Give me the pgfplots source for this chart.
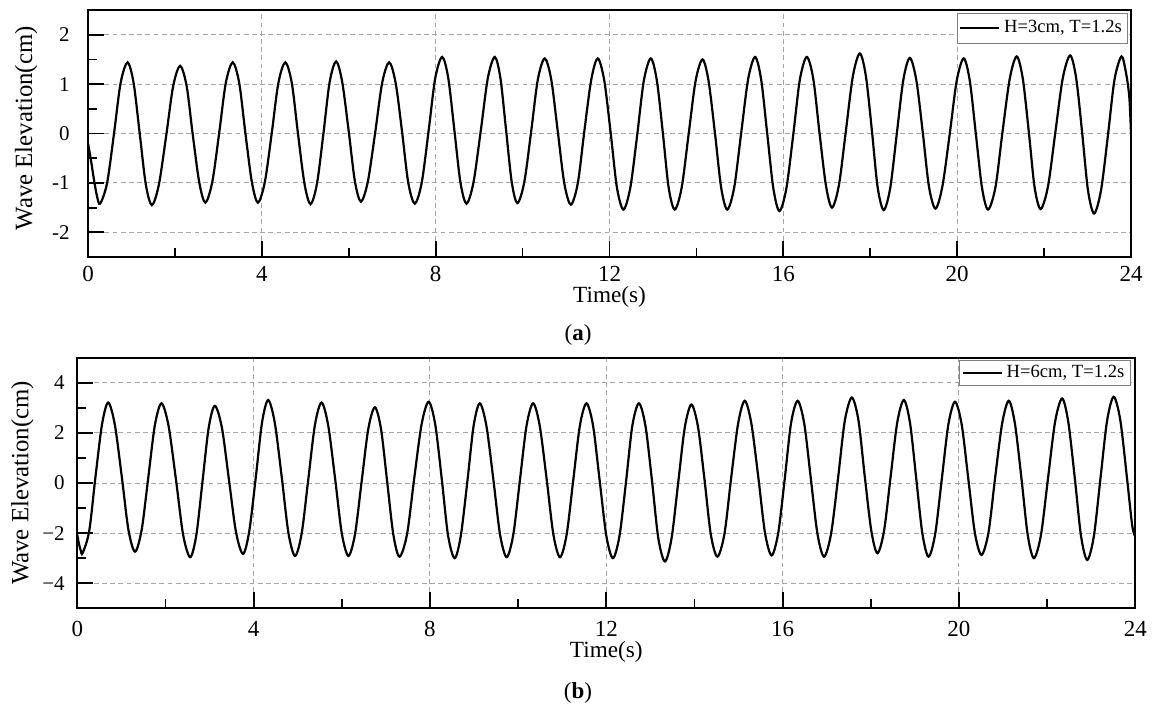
\documentclass[border=0pt]{standalone}
\usepackage{pgfplots}
\pgfplotsset{compat=1.18}
\usepackage{fontspec}
\setmainfont{Liberation Serif}
\begin{document}
\begin{tikzpicture}[x=1pt,y=1pt]
\useasboundingbox (0,0) rectangle (578,357);
\pgfplotsset{
  wavestyle/.style={
    scale only axis,
    xmin=0, xmax=24,
    xtick={0,4,8,12,16,20,24},
    xticklabels={0,4,8,12,16,20,24},
    minor x tick num=1,
    minor y tick num=1,
    xtick pos=bottom, ytick pos=left,
    tick align=inside,
    major tick length=8pt, minor tick length=4.5pt,
    axis line style={line width=1pt},
    tick style={black, line width=0.9pt},
    grid=major,
    major grid style={black!35, dash pattern=on 2.4pt off 1.7pt, line width=0.5pt},
    xticklabel style={font=\fontsize{11.5}{13}\selectfont, inner sep=0pt},
    yticklabel style={font=\fontsize{10.5}{12}\selectfont, inner sep=0pt},
    /pgf/number format/assume math mode=true,
    xlabel={Time(s)},
    ylabel={Wave Elevation(cm)},
    xlabel style={font=\fontsize{11.6}{13}\selectfont, anchor=center},
    ylabel style={font=\fontsize{12.4}{14}\selectfont, anchor=center},
    legend cell align=left,
  }
}
% ---------- panel (a) ----------
\begin{axis}[wavestyle,
  at={(44pt,228.5pt)}, anchor=south west,
  width=521.5pt, height=123.5pt,
  ymin=-2.5, ymax=2.5,
  ytick={-2,-1,0,1,2},
  yticklabels={-2,-1,0,1,2},
  xticklabel style={anchor=center, yshift=-8.4pt},
  yticklabel style={anchor=east, xshift=-9pt},
  xlabel style={at={(axis description cs:0.5,-0.1607)}},
  ylabel style={at={(axis description cs:-0.0594,0.521)}},
  legend style={at={(1,1)}, anchor=north east, xshift=-1.4pt, yshift=-1.4pt,
    draw=black!50, line width=0.4pt, fill=white,
    font=\fontsize{9.3}{10.5}\selectfont, inner xsep=1pt, inner ysep=1.6pt},
  legend image code/.code={\draw[#1] (0pt,0pt) -- (19.5pt,0pt);},
]
\addplot[black, line width=1.1pt, smooth] coordinates {
(0,-0.20) (0.07,-0.55) (0.14,-0.95) (0.21,-1.28) (0.28,-1.42)
(0.44,-1.00) (0.60,0.01) (0.75,1.02) (0.91,1.44)
(1.05,1.02) (1.19,0.00) (1.33,-1.03) (1.47,-1.45)
(1.63,-1.04) (1.80,-0.04) (1.96,0.96) (2.12,1.37)
(2.27,0.96) (2.41,-0.02) (2.56,-0.99) (2.70,-1.40)
(2.86,-0.98) (3.02,0.02) (3.17,1.02) (3.33,1.44)
(3.48,1.02) (3.62,0.02) (3.77,-0.98) (3.91,-1.40)
(4.07,-0.98) (4.23,0.02) (4.38,1.02) (4.54,1.44)
(4.69,1.02) (4.83,0.01) (4.98,-1.01) (5.12,-1.43)
(5.27,-1.01) (5.42,0.02) (5.56,1.04) (5.71,1.46)
(5.85,1.04) (6.00,0.04) (6.14,-0.96) (6.28,-1.38)
(6.44,-0.97) (6.61,0.03) (6.77,1.03) (6.93,1.44)
(7.08,1.02) (7.23,0.01) (7.37,-1.00) (7.52,-1.42)
(7.68,-0.99) (7.84,0.07) (7.99,1.12) (8.15,1.55)
(8.29,1.12) (8.43,0.07) (8.57,-0.99) (8.71,-1.42)
(8.87,-0.99) (9.04,0.07) (9.20,1.12) (9.36,1.55)
(9.49,1.12) (9.62,0.07) (9.75,-0.98) (9.88,-1.41)
(10.04,-0.98) (10.20,0.06) (10.35,1.09) (10.51,1.52)
(10.66,1.09) (10.81,0.04) (10.96,-1.01) (11.11,-1.44)
(11.27,-1.01) (11.42,0.04) (11.58,1.09) (11.73,1.52)
(11.88,1.07) (12.03,-0.01) (12.17,-1.09) (12.32,-1.54)
(12.48,-1.09) (12.64,-0.01) (12.79,1.07) (12.95,1.52)
(13.09,1.07) (13.23,-0.01) (13.36,-1.09) (13.50,-1.54)
(13.66,-1.10) (13.82,-0.02) (13.98,1.06) (14.14,1.50)
(14.28,1.06) (14.43,-0.02) (14.57,-1.10) (14.71,-1.54)
(14.87,-1.09) (15.03,0.01) (15.19,1.10) (15.35,1.55)
(15.49,1.09) (15.63,-0.01) (15.77,-1.11) (15.91,-1.57)
(16.07,-1.11) (16.23,-0.01) (16.38,1.09) (16.54,1.55)
(16.69,1.10) (16.83,0.03) (16.98,-1.05) (17.12,-1.50)
(17.28,-1.04) (17.44,0.06) (17.60,1.16) (17.76,1.62)
(17.90,1.16) (18.04,0.04) (18.17,-1.09) (18.31,-1.55)
(18.46,-1.10) (18.61,-0.01) (18.76,1.08) (18.91,1.53)
(19.06,1.08) (19.21,0.01) (19.35,-1.07) (19.50,-1.52)
(19.66,-1.07) (19.83,0.00) (19.99,1.07) (20.15,1.52)
(20.29,1.07) (20.43,-0.01) (20.57,-1.09) (20.71,-1.54)
(20.88,-1.09) (21.04,0.01) (21.21,1.11) (21.37,1.56)
(21.51,1.11) (21.65,0.02) (21.78,-1.08) (21.92,-1.53)
(22.09,-1.07) (22.26,0.03) (22.43,1.12) (22.60,1.58)
(22.74,1.11) (22.88,-0.02) (23.01,-1.15) (23.15,-1.62)
(23.31,-1.15) (23.47,-0.03) (23.62,1.09) (23.78,1.56)
(23.88,1.25) (23.96,0.75) (24.00,0.00)
};
\addlegendentry{H=3cm, T=1.2s}
\end{axis}
% ---------- panel (b) ----------
\begin{axis}[wavestyle,
  at={(38.65pt,52.85pt)}, anchor=south west,
  width=529pt, height=125.3pt,
  ymin=-5, ymax=5,
  ytick={-4,-2,0,2,4},
  yticklabels={−4,−2,0,2,4},
  xticklabel style={anchor=center, yshift=-10.5pt},
  yticklabel style={anchor=east, xshift=-6.1pt},
  xlabel style={at={(axis description cs:0.5,-0.173)}},
  ylabel style={at={(axis description cs:-0.0518,0.5)}},
  legend style={at={(1,1)}, anchor=north east, xshift=-2.3pt, yshift=-1pt,
    draw=black!50, line width=0.4pt, fill=white,
    font=\fontsize{9.3}{10.5}\selectfont, inner xsep=1pt, inner ysep=0.5pt},
  legend image code/.code={\draw[#1] (0pt,0pt) -- (19.5pt,0pt);},
]
\addplot[black, line width=1.1pt, smooth] coordinates {
(0,-2.07) (0.04,-2.45) (0.08,-2.70) (0.12,-2.80)
(0.27,-1.92) (0.41,0.21) (0.56,2.33) (0.70,3.21)
(0.85,2.34) (1.01,0.24) (1.16,-1.87) (1.31,-2.74)
(1.46,-1.87) (1.61,0.22) (1.76,2.31) (1.91,3.18)
(2.07,2.28) (2.24,0.11) (2.40,-2.06) (2.56,-2.96)
(2.70,-2.08) (2.84,0.06) (2.98,2.20) (3.12,3.08)
(3.28,2.21) (3.44,0.13) (3.60,-1.96) (3.76,-2.83)
(3.90,-1.93) (4.05,0.24) (4.19,2.41) (4.33,3.31)
(4.48,2.40) (4.64,0.20) (4.79,-2.00) (4.94,-2.91)
(5.09,-2.01) (5.24,0.15) (5.39,2.31) (5.54,3.21)
(5.69,2.31) (5.85,0.15) (6.00,-2.01) (6.15,-2.91)
(6.30,-2.04) (6.45,0.06) (6.60,2.15) (6.75,3.02)
(6.89,2.15) (7.03,0.04) (7.17,-2.07) (7.31,-2.94)
(7.48,-2.04) (7.64,0.15) (7.81,2.34) (7.97,3.24)
(8.12,2.33) (8.27,0.12) (8.41,-2.09) (8.56,-3.00)
(8.70,-2.10) (8.85,0.09) (8.99,2.28) (9.13,3.18)
(9.28,2.28) (9.44,0.11) (9.59,-2.06) (9.74,-2.96)
(9.89,-2.06) (10.04,0.11) (10.19,2.28) (10.34,3.18)
(10.49,2.28) (10.65,0.11) (10.80,-2.06) (10.95,-2.96)
(11.10,-2.06) (11.25,0.11) (11.40,2.28) (11.55,3.18)
(11.70,2.28) (11.85,0.09) (12.00,-2.10) (12.15,-3.00)
(12.30,-2.10) (12.45,0.09) (12.59,2.28) (12.74,3.18)
(12.89,2.26) (13.04,0.03) (13.18,-2.21) (13.33,-3.13)
(13.48,-2.21) (13.63,0.00) (13.78,2.21) (13.93,3.13)
(14.08,2.24) (14.23,0.10) (14.37,-2.05) (14.52,-2.94)
(14.68,-2.03) (14.83,0.17) (14.99,2.37) (15.14,3.28)
(15.29,2.38) (15.45,0.20) (15.60,-1.99) (15.75,-2.89)
(15.90,-1.99) (16.05,0.20) (16.19,2.38) (16.34,3.28)
(16.49,2.37) (16.64,0.17) (16.79,-2.03) (16.94,-2.94)
(17.10,-2.01) (17.26,0.24) (17.41,2.48) (17.57,3.41)
(17.72,2.50) (17.86,0.31) (18.01,-1.89) (18.15,-2.80)
(18.30,-1.91) (18.45,0.26) (18.60,2.42) (18.75,3.31)
(18.89,2.39) (19.03,0.19) (19.17,-2.02) (19.31,-2.94)
(19.46,-2.04) (19.61,0.15) (19.76,2.34) (19.91,3.24)
(20.06,2.35) (20.21,0.19) (20.36,-1.98) (20.51,-2.87)
(20.67,-1.97) (20.82,0.21) (20.98,2.38) (21.13,3.28)
(21.27,2.36) (21.42,0.14) (21.56,-2.08) (21.70,-3.00)
(21.86,-2.07) (22.02,0.19) (22.18,2.44) (22.34,3.37)
(22.48,2.43) (22.63,0.15) (22.77,-2.13) (22.91,-3.07)
(23.06,-2.12) (23.21,0.19) (23.36,2.49) (23.51,3.44)
(23.66,2.50) (23.81,0.22) (23.93,-1.70) (24.00,-2.14)
};
\addlegendentry{H=6cm, T=1.2s}
\end{axis}
\node[font=\fontsize{11.5}{13}\selectfont] at (289pt,189.5pt) {(\textbf{a})};
\node[font=\fontsize{11.5}{13}\selectfont] at (289pt,10.5pt) {(\textbf{b})};
\end{tikzpicture}
\end{document}
